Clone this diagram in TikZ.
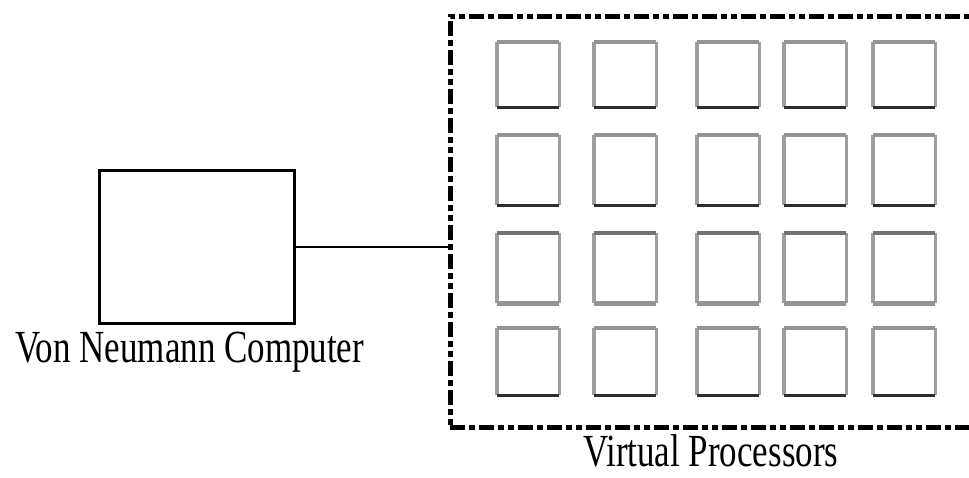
\documentclass[tikz,border=0pt]{standalone}
\usepackage{fontspec}
\setmainfont{Liberation Serif}
\begin{document}
\begin{tikzpicture}[x=1pt,y=-1pt,
  lbl/.style={inner sep=0pt, anchor=base west, font=\fontsize{46}{50}\selectfont},
  cell/.style={draw=none, minimum width=62pt, minimum height=66pt, inner sep=0pt, anchor=north west},
  edgetop/.style={draw=black!42, line width=4.5pt},
  edgeside/.style={draw=black!38, line width=3.5pt},
  edgebot/.style={draw=black!82, line width=3.5pt},
  edgetopB/.style={draw=black!55, line width=3.5pt},
  edgebotB/.style={draw=black!42, line width=5pt},
  frame/.style={draw=black, line width=4.5pt, dash pattern=on 15pt off 4pt on 6pt off 4pt on 15pt off 4pt on 6pt off 4pt on 6pt off 4pt},
  plain/.style={draw=black, line width=2.8pt}]
\useasboundingbox (0,0) rectangle (969,477);
\clip (0,0) rectangle (969,477);
% Von Neumann computer
\node[plain, minimum width=195pt, minimum height=153pt, inner sep=0pt, anchor=north west] (vnc) at (98,169) {};
\node[lbl] (vnclabel) at (15,362) {\scalebox{0.76}[1]{Von Neumann Computer}};
% virtual processors frame
\node[frame, minimum width=540pt, minimum height=411pt, inner sep=0pt, anchor=north west] (vp) at (448,14) {};
\node[lbl] (vplabel) at (583,466) {\scalebox{0.76}[1]{Virtual Processors}};
% connector
\draw[draw=black, line width=2.8pt] (vnc.east) -- (vnc.east -| vp.west);
% processor cells
\foreach \r/\y/\h in {1/42/65, 2/135/70, 3/233/70, 4/328/67}{
  \foreach \c/\x in {1/497, 2/594, 3/697, 4/784, 5/873}{
    \node[cell, minimum height=\h pt] (s-\r-\c) at (\x,\y) {};
  }
}
\foreach \r in {1,2,4}{
  \foreach \c in {1,...,5}{
    \draw[edgeside] (s-\r-\c.north west) -- (s-\r-\c.south west);
    \draw[edgeside] (s-\r-\c.north east) -- (s-\r-\c.south east);
    \draw[edgetop] (s-\r-\c.north west) -- (s-\r-\c.north east);
    \draw[edgebot] (s-\r-\c.south west) -- (s-\r-\c.south east);
  }
}
\foreach \c in {1,...,5}{
  \draw[edgeside] (s-3-\c.north west) -- (s-3-\c.south west);
  \draw[edgeside] (s-3-\c.north east) -- (s-3-\c.south east);
  \draw[edgetopB] (s-3-\c.north west) -- (s-3-\c.north east);
  \draw[edgebotB] (s-3-\c.south west) -- (s-3-\c.south east);
}
\end{tikzpicture}
\end{document}
